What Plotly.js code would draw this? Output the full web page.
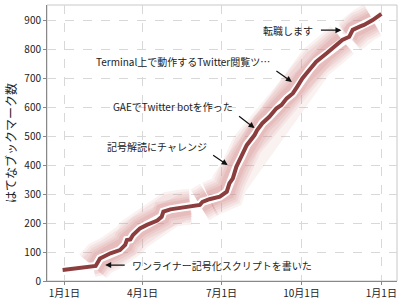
<!DOCTYPE html>
<html><head><meta charset="utf-8">
<script src="https://cdn.plot.ly/plotly-3.0.1.min.js"></script>
<style>html,body{margin:0;padding:0;background:#fff}#c{width:400px;height:300px}</style>
</head><body><div id="c"></div>
<script>
const dates = ['2008-12-30','2009-01-19','2009-02-03','2009-02-06','2009-02-11','2009-02-23','2009-03-06','2009-03-12','2009-03-14','2009-03-18','2009-03-21','2009-03-29','2009-04-06','2009-04-18','2009-04-23','2009-04-25','2009-05-03','2009-05-18','2009-05-26','2009-06-06','2009-06-09','2009-06-17','2009-06-29','2009-07-07','2009-07-10','2009-07-14','2009-07-18','2009-07-24','2009-07-30','2009-08-08','2009-08-11','2009-08-17','2009-08-25','2009-09-02','2009-09-08','2009-09-14','2009-09-21','2009-09-26','2009-10-02','2009-10-10','2009-10-18','2009-10-30','2009-11-10','2009-11-17','2009-11-25','2009-11-29','2009-12-07','2009-12-12','2009-12-22','2010-01-01'];
const bookmarks = [38,44,50,52,78,96,107,125,142,144,159,182,194,209,222,240,248,255,257,263,274,283,292,309,338,355,395,430,470,505,522,546,568,597,609,632,649,672,701,730,759,788,817,834,845,869,880,886,903,924];
const bandRanges = [['2009-02-03','2009-05-26'],['2009-06-06','2009-06-17'],['2009-06-17','2009-11-20'],['2009-11-25','2009-12-22']];
const tickDates = ['2009-01-01','2009-04-01','2009-07-01','2009-10-01','2010-01-01'];
const tickLabels = ['1月1日','4月1日','7月1日','10月1日','1月1日'];
const notes = [
  {text:'ワンライナー記号化スクリプトを書いた', head:['2009-02-17',55], label:['2009-03-17',52], anchor:'left', ax:21, ay:0},
  {text:'記号解読にチャレンジ', head:['2009-07-08',401], label:['2009-06-17',467], anchor:'right', ax:-16, ay:-11},
  {text:'GAEでTwitter botを作った', head:['2009-08-08',529], label:['2009-07-16',605], anchor:'right', ax:-17, ay:-13},
  {text:'Terminal上で動作するTwitter閲覧ツ…', head:['2009-09-20',689], label:['2009-08-28',758], anchor:'right', ax:-17, ay:-12},
  {text:'転職します', head:['2009-11-16',868], label:['2009-10-17',868], anchor:'right', ax:-22, ay:0}
];

const traces = [];
const bandStyles = [[36,'rgba(220,150,150,0.13)'],[31,'rgba(220,150,150,0.13)'],[26,'rgba(215,140,140,0.14)'],[21,'rgba(210,130,130,0.15)'],[16,'rgba(205,120,120,0.16)']];
bandRanges.forEach(r => {
  const xs=[], ys=[];
  dates.forEach((d,i)=>{ if(d>=r[0] && d<=r[1]){xs.push(d);ys.push(bookmarks[i]);} });
  bandStyles.forEach(s=>{
    traces.push({x:xs,y:ys,mode:'lines',line:{width:s[0],color:s[1]},hoverinfo:'skip',showlegend:false});
  });
});
traces.push({x:dates,y:bookmarks,mode:'lines',line:{width:8,color:'#ffffff'},showlegend:false});
traces.push({x:dates,y:bookmarks,mode:'lines',line:{width:4,color:'#8c3e3e'},showlegend:false});

const ann = [];
const f = {family:'Noto Sans CJK JP',size:10,color:'#222'};
notes.forEach(n=>{
  ann.push({x:n.head[0],y:n.head[1],xref:'x',yref:'y',text:'',showarrow:true,ax:n.ax,ay:n.ay,arrowhead:2,arrowsize:1,arrowwidth:1.2,arrowcolor:'#111',standoff:0,startstandoff:0});
  ann.push({x:n.label[0],y:n.label[1],xref:'x',yref:'y',text:n.text,showarrow:false,xanchor:n.anchor,yanchor:'middle',font:f});
});

const layout = {
  width:400,height:300,
  margin:{l:47,r:3,t:5,b:19},
  paper_bgcolor:'#fff',plot_bgcolor:'#fff',
  font:{family:'Noto Sans CJK JP',size:10,color:'#222'},
  xaxis:{type:'date',range:['2008-12-12','2010-01-19'],tickvals:tickDates,ticktext:tickLabels,
    showgrid:true,gridcolor:'#d8d8d8',griddash:'dash',zeroline:false,
    showline:true,linecolor:'#888',linewidth:1,ticks:'outside',ticklen:3,tickcolor:'#888',
    tickfont:{family:'Noto Sans CJK JP',size:10,color:'#222'}},
  yaxis:{range:[0,955],tickvals:[0,100,200,300,400,500,600,700,800,900],
    showgrid:true,gridcolor:'#d8d8d8',griddash:'dash',zeroline:false,
    showline:true,linecolor:'#888',linewidth:1,ticks:'outside',ticklen:3,tickcolor:'#888',
    tickfont:{family:'Noto Sans CJK JP',size:10,color:'#222'},
    title:{text:'はてなブックマーク数',font:{family:'Noto Sans CJK JP',size:12,color:'#222'},standoff:5}},
  shapes:[{type:'rect',xref:'paper',yref:'paper',x0:0,x1:1,y0:0,y1:1,line:{color:'#c8c8c8',width:1},layer:'below'}],
  annotations:ann
};
Plotly.newPlot('c',traces,layout,{staticPlot:true});
</script></body></html>
